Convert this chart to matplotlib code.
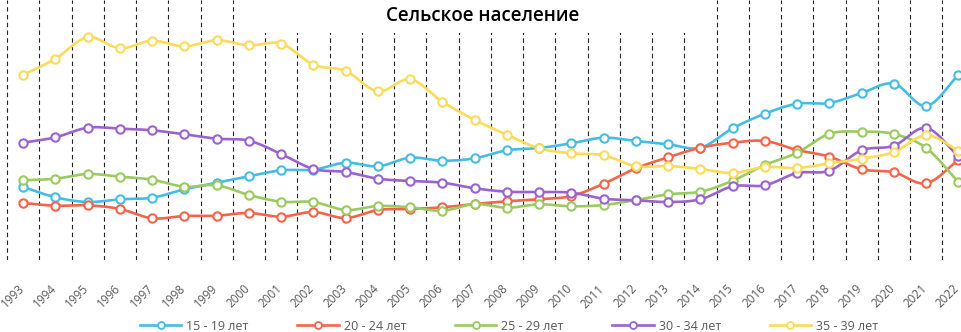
import numpy as np
import matplotlib
matplotlib.use("Agg")
from matplotlib import pyplot as plt
from matplotlib.patches import Rectangle
import matplotlib.transforms as mtrans

# Data (relative values)
years = [str(y) for y in range(1993, 2023)]
age_15_19 = [73, 62.7, 58, 60.7, 62.3, 70.7, 77.3, 83.7, 89.7, 90.3, 97.3, 93.7, 102.3, 99.3, 101.7,
             109.7, 112, 116.7, 122.3, 119, 115.7, 112.3, 131.7, 146.3, 156.3, 157, 167, 176.3, 154, 185]
age_20_24 = [57, 54.3, 54.7, 51, 41.7, 44, 44.3, 47, 43.3, 48, 42, 50, 51, 52.7, 56,
             58.7, 60.7, 64, 76.3, 91.7, 102.7, 112.3, 117.3, 119, 110, 103.3, 90.7, 87.7, 76.7, 100]
age_25_29 = [79.7, 81.3, 86, 83.3, 80.3, 73.3, 74.7, 65, 58.3, 58, 50, 54, 52.7, 49.3, 56,
             52.3, 55.7, 53.7, 55, 60, 65.7, 68.3, 79.3, 95, 107.3, 126.2, 128.3, 126, 112, 78]
age_30_34 = [117.3, 122.7, 132.3, 131.3, 129.7, 125.7, 121.3, 119.3, 106, 91, 88, 81.3, 79, 77.3, 71.7,
             68.3, 68, 67.3, 61.3, 59.7, 58, 60.7, 73.7, 74.7, 87, 89.3, 109.7, 114.3, 132, 103.7]
age_35_39 = [185, 201.3, 222.7, 211.7, 219.3, 213.7, 219.7, 214.7, 216.3, 195.3, 189, 168.7, 180.7, 158.3, 140,
             125.3, 111.7, 106.7, 104.7, 93.7, 94, 91, 87, 93, 92, 96.7, 101.3, 108, 124.7, 109.5]

labels = ["15 - 19 лет", "20 - 24 лет", "25 - 29 лет", "30 - 34 лет", "35 - 39 лет"]
series = [age_15_19, age_20_24, age_25_29, age_30_34, age_35_39]
colors = ["#45BDE3", "#F4644B", "#9BCB5E", "#9B63D0", "#FADB5A"]

plt.rcParams['font.family'] = ['Open Sans', 'DejaVu Sans']


# smooth line like excel "smoothed line" (catmull-rom through the points)
def smooth(y, n=20):
    y = np.asarray(y, dtype=float)
    p = np.concatenate([[2 * y[0] - y[1]], y, [2 * y[-1] - y[-2]]])
    xs, ys = [], []
    t = np.linspace(0, 1, n, endpoint=False)
    for i in range(1, len(p) - 2):
        p0, p1, p2, p3 = p[i - 1], p[i], p[i + 1], p[i + 2]
        seg = 0.5 * ((2 * p1) + (-p0 + p2) * t + (2 * p0 - 5 * p1 + 4 * p2 - p3) * t ** 2
                     + (-p0 + 3 * p1 - 3 * p2 + p3) * t ** 3)
        xs.extend(i - 1 + t)
        ys.extend(seg)
    xs.append(len(y) - 1)
    ys.append(y[-1])
    return np.array(xs), np.array(ys)


fig = plt.figure(figsize=(9.62, 3.32), dpi=100)
ax = fig.add_axes([0, 72 / 332, 1, 260 / 332])
x = np.arange(len(years))

ax.vlines(x - 0.5, 0, 260, colors="#222222", linestyles=(0, (4, 3)), linewidth=0.8, zorder=1)

for vals, lab, col in zip(series, labels, colors):
    sx, sy = smooth(vals)
    ax.plot(sx, sy, color=col, linewidth=1.9, zorder=3, solid_capstyle="round")
    ax.plot(x, vals, linestyle="none", marker="o", markersize=6, markerfacecolor="white",
            markeredgecolor=col, markeredgewidth=1.5, zorder=4)
    # legend proxy
    ax.plot([], [], color=col, linewidth=1.9, marker="o", markersize=5, markerfacecolor="white",
            markeredgecolor=col, markeredgewidth=1.3, label=lab)

ax.set_xlim(-0.72, 29.11)
ax.set_ylim(0, 260)
ax.set_yticks([])
for s in ax.spines.values():
    s.set_visible(False)
ax.set_xticks(x)
ax.set_xticklabels(years, rotation=45, ha="right", va="top", color="#595959", fontsize=8.5)
ax.tick_params(axis="x", length=0, pad=16)
offset = mtrans.ScaledTranslation(3.5 / 100, 0, fig.dpi_scale_trans)
for t in ax.get_xticklabels():
    t.set_transform(t.get_transform() + offset)

# white box behind title hides the grid there
fig.patches.append(Rectangle((250 / 962, 1 - 33 / 332), 450 / 962, 33 / 332,
                             transform=fig.transFigure, facecolor="white", edgecolor="none", zorder=5))
fig.text(483 / 962, 1 - 16 / 332, "Сельское население", ha="center", va="center",
         fontsize=13.5, fontweight="semibold", color="black", zorder=6)

leg = fig.legend(loc="center", bbox_to_anchor=(509 / 962, 1 - 326 / 332), ncol=5, frameon=False,
                 fontsize=9, handlelength=3.3, handletextpad=0.4, columnspacing=3.9,
                 borderpad=0, borderaxespad=0)
for t in leg.get_texts():
    t.set_color("#595959")

fig.savefig("out.png", dpi=100, facecolor="white")
